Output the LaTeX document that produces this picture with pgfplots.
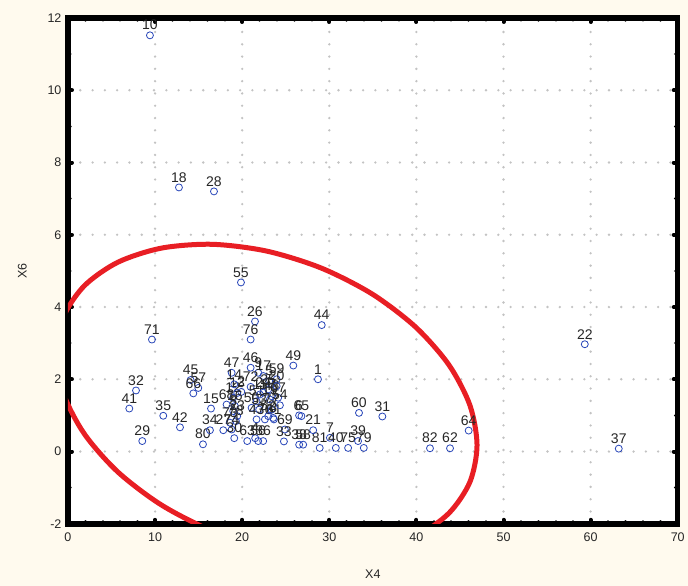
\documentclass[border=0pt]{standalone}
\usepackage{fontspec}
\setmainfont{Liberation Sans}
\usepackage{pgfplots}
\usepackage{pgfplotstable}
\pgfplotsset{compat=1.18}

\definecolor{cream}{RGB}{255,250,238}
\definecolor{ptblue}{RGB}{40,70,185}
\definecolor{ellred}{RGB}{232,30,36}
\definecolor{gridgray}{RGB}{195,195,195}

% X4, X6, case number
\pgfplotstableread{
x y label
28.70 2.00 1
30.07 0.38 7
9.41 11.52 10
12.74 7.31 18
16.76 7.20 28
19.86 4.68 55
21.47 3.60 26
20.97 3.10 76
29.13 3.50 44
9.64 3.10 71
25.87 2.38 49
59.33 2.97 22
63.23 0.08 37
7.81 1.69 32
7.04 1.19 41
10.94 0.99 35
8.53 0.29 29
12.86 0.67 42
14.08 1.98 45
14.96 1.76 57
14.39 1.61 66
15.50 0.20 80
16.42 1.19 15
16.30 0.59 34
17.83 0.59 27
33.41 1.07 60
36.09 0.97 31
46.00 0.58 64
41.56 0.09 82
43.86 0.09 62
28.90 0.10 81
30.75 0.10 40
32.16 0.10 75
33.96 0.10 79
33.30 0.29 39
26.54 0.19 38
27.00 0.19 58
28.15 0.59 21
26.53 1.00 6
26.80 0.98 65
18.79 2.18 47
20.97 2.32 46
21.85 2.18 9
22.43 2.09 17
23.10 1.95 5
23.96 2.00 59
20.97 1.79 72
18.21 1.30 68
18.97 1.49 12
19.43 1.62 13
19.90 1.65 2
19.16 1.26 16
18.97 1.12 3
19.43 0.98 23
18.59 0.80 73
19.28 0.84 78
18.79 0.61 74
19.09 0.37 30
20.58 0.29 63
21.49 0.37 4
21.84 0.29 56
22.41 0.29 36
21.08 1.21 50
21.65 1.39 51
22.03 1.58 11
22.41 1.63 24
22.99 1.72 25
23.38 1.53 48
22.61 0.89 70
21.95 1.16 53
23.64 0.89 61
24.13 1.49 67
24.33 1.28 54
23.95 1.81 20
24.90 0.61 69
24.79 0.28 33
23.18 1.44 19
23.38 1.16 77
22.99 0.98 52
21.65 0.89 43
23.56 0.93 8
19.09 1.86 14
}\pts

\begin{document}
\begin{tikzpicture}
\fill[cream] (-68pt,-62pt) rectangle (620pt,524pt);
\begin{axis}[
  scale only axis, width=610pt, height=506pt,
  xmin=0, xmax=70, ymin=-2, ymax=12,
  xtick={0,10,...,70}, ytick={-2,0,...,12},
  minor x tick num=4, minor y tick num=1,
  axis background/.style={fill=white},
  axis line style={line width=5.5pt},
  tick align=inside,
  major tick length=4pt, minor tick length=2.5pt,
  every major tick/.style={line width=4pt, line cap=round, black},
  every minor tick/.style={line width=2.5pt, line cap=round, black},
  grid=major,
  major grid style={gridgray, line width=2.6pt, line cap=round, dash pattern=on 0pt off 12.3pt},
  tick label style={font=\fontsize{12.5}{14}\selectfont, text=black!85},
  /pgf/number format/assume math mode=true,
  xticklabel style={yshift=-5pt}, yticklabel style={xshift=-3pt},
  xlabel={X4}, ylabel={X6},
  label style={font=\fontsize{12.5}{14}\selectfont, text=black!85},
  xlabel style={at={(axis description cs:0.5,-0.1)}, anchor=center},
  ylabel style={at={(axis description cs:-0.075,0.5)}, anchor=center},
]
\addplot[ellred, line width=5pt, smooth] coordinates {
(22.81,-2.664) (29.06,-2.852) (34.89,-2.747) (39.89,-2.356) (43.73,-1.707)
(46.14,-0.844) (46.96,0.176) (46.14,1.282) (43.73,2.399) (39.89,3.450)
(34.89,4.365) (29.06,5.080) (22.81,5.548) (16.56,5.736) (10.74,5.631)
(5.73,5.240) (1.89,4.591) (-0.52,3.728) (-1.34,2.708) (-0.52,1.602)
(1.89,0.485) (5.73,-0.566) (10.74,-1.481) (16.56,-2.196) (22.81,-2.664)
};
\addplot[only marks, mark=o, mark size=3.5pt, ptblue, mark options={line width=0.8pt},
  nodes near coords, point meta=explicit symbolic,
  every node near coord/.style={font=\fontsize{14}{16}\selectfont, text=black!85, anchor=south, yshift=1.5pt}]
  table[x=x, y=y, meta=label] {\pts};
\end{axis}
\end{tikzpicture}
\end{document}
